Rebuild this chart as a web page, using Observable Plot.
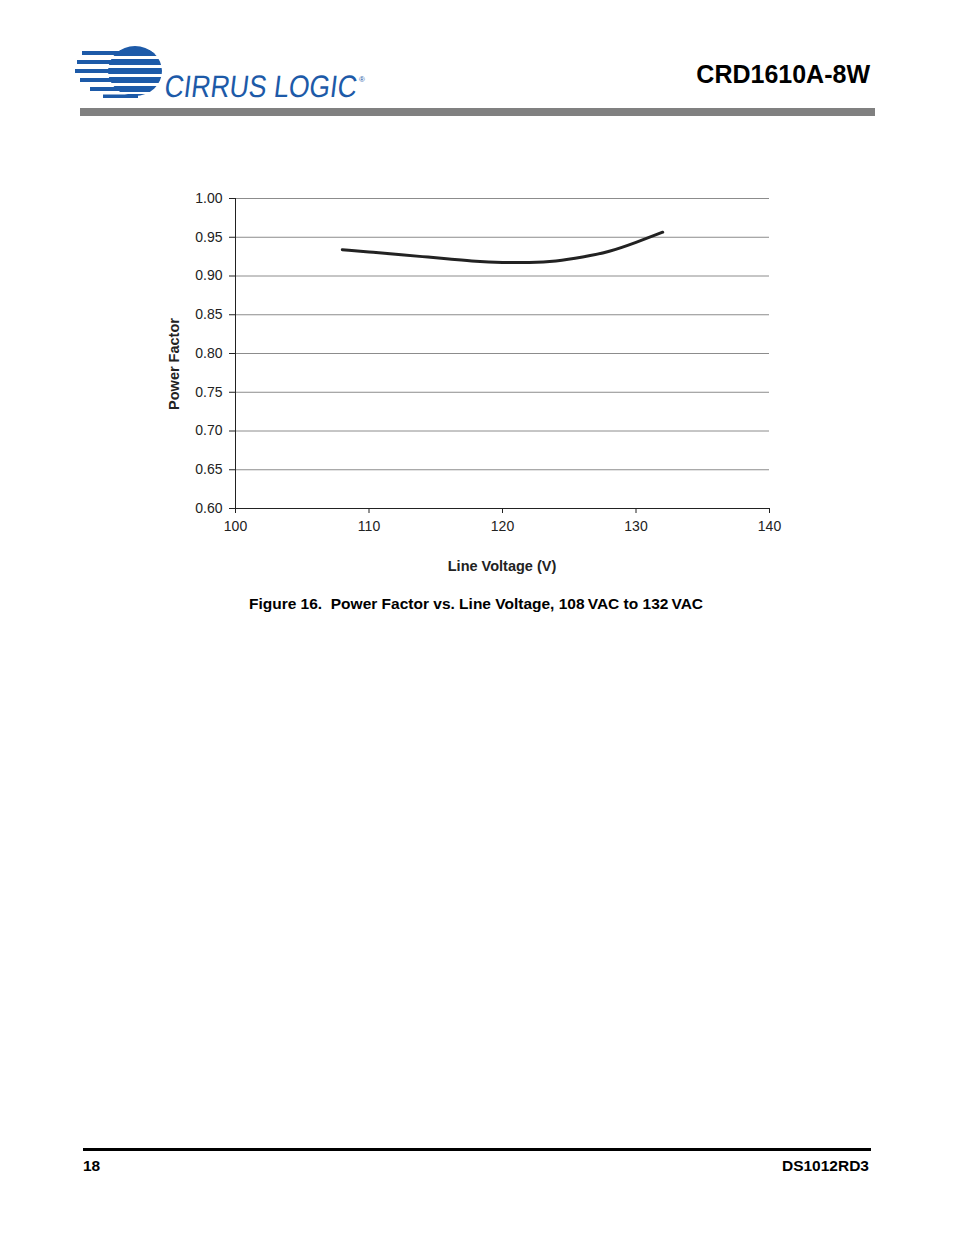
<!DOCTYPE html>
<html>
<head>
<meta charset="utf-8">
<script src="https://cdn.jsdelivr.net/npm/d3@7"></script>
<script src="https://cdn.jsdelivr.net/npm/@observablehq/plot@0.6"></script>
<style>
  html, body { margin: 0; padding: 0; background: #fff; }
  body { width: 954px; height: 1235px; position: relative; font-family: "Liberation Sans", Arial, sans-serif; color: #000; overflow: hidden; }
  .abs { position: absolute; }
  #chart { position: absolute; left: 0; top: 150px; }
</style>
</head>
<body>
<script>
// ---- data ----
const voltage = [108, 110, 112, 114, 116, 118, 120, 122, 124, 126, 128, 130, 132];
const powerFactor = [0.934, 0.931, 0.928, 0.925, 0.922, 0.919, 0.9175, 0.9175, 0.9195, 0.9245, 0.932, 0.9435, 0.9565];
const xTicks = [100, 110, 120, 130, 140];
const yTicks = [0.60, 0.65, 0.70, 0.75, 0.80, 0.85, 0.90, 0.95, 1.00];
const xLabel = "Line Voltage (V)";
const yLabel = "Power Factor";
const figCaption = "Figure 16.  Power Factor vs. Line Voltage, 108\u2009VAC to 132\u2009VAC";
const docTitle = "CRD1610A-8W";
const pageNum = "18";
const docId = "DS1012RD3";

const rows = voltage.map((v, i) => ({v, pf: powerFactor[i]}));

const chart = Plot.plot({
  width: 954,
  height: 440,
  marginLeft: 235,
  marginRight: 185,
  marginTop: 48,
  marginBottom: 82,
  style: {fontFamily: "'Liberation Sans', Arial, sans-serif", fontSize: "14px", color: "#222", background: "transparent"},
  x: {domain: [100, 140]},
  y: {domain: [0.6, 1.0]},
  marks: [
    Plot.gridY(yTicks.filter(d => d > 0.6), {stroke: "#8c8c8c", strokeOpacity: 1, strokeWidth: 1}),
    Plot.ruleX([100], {stroke: "#222", strokeWidth: 1}),
    Plot.ruleY([0.6], {stroke: "#222", strokeWidth: 1}),
    Plot.axisY({ticks: yTicks, tickSize: 6, tickPadding: 7, fontSize: 14, tickFormat: d => d.toFixed(2), label: null, stroke: "#222", fill: "#222"}),
    Plot.axisX({ticks: xTicks, tickSize: 5, tickPadding: 8, fontSize: 14, label: null, stroke: "#222", fill: "#222"}),
    Plot.line(rows, {x: "v", y: "pf", curve: "natural", stroke: "#222", strokeWidth: 3, strokeLinecap: "round"})
  ]
});
chart.id = "chart";
document.body.appendChild(chart);

function addDiv(html, css) {
  const d = document.createElement("div");
  d.className = "abs";
  d.innerHTML = html;
  Object.assign(d.style, css);
  document.body.appendChild(d);
  return d;
}

// header
addDiv(docTitle, {right: "84px", top: "59px", fontSize: "25px", fontWeight: "bold", lineHeight: "30px"});
addDiv("", {left: "80px", top: "108px", width: "795px", height: "8px", background: "#808080"});

// logo (decorative)
addDiv(`
<svg xmlns="http://www.w3.org/2000/svg" width="310" height="60" viewBox="0 0 310 60" style="overflow:visible">
  <defs>
    <clipPath id="globe"><ellipse cx="60" cy="26" rx="27" ry="25"/></clipPath>
  </defs>
  <g fill="#1d5aa8">
    <rect x="30" y="0" width="60" height="8" clip-path="url(#globe)"/>
    <rect x="7" y="5" width="90" height="6" clip-path="url(#globe)"/>
    <rect x="7" y="6" width="50" height="4"/>
    <rect x="2" y="14" width="95" height="6" clip-path="url(#globe)"/>
    <rect x="2" y="15" width="50" height="4"/>
    <rect x="0" y="23" width="95" height="6" clip-path="url(#globe)"/>
    <rect x="0" y="24" width="55" height="4"/>
    <rect x="5" y="32" width="95" height="6" clip-path="url(#globe)"/>
    <rect x="5" y="33" width="50" height="4"/>
    <rect x="15" y="41" width="85" height="6" clip-path="url(#globe)"/>
    <rect x="15" y="42" width="45" height="4"/>
    <rect x="28" y="49" width="70" height="5" clip-path="url(#globe)"/>
    <rect x="28" y="49.5" width="35" height="3.5"/>
  </g>
  <text x="88" y="52" fill="#1d5aa8" font-family="'Liberation Sans Narrow','Liberation Sans',Arial,sans-serif" font-size="31" textLength="192" lengthAdjust="spacingAndGlyphs" transform="skewX(-7) translate(7,0)">CIRRUS LOGIC</text>
  <text x="284" y="37" fill="#1d5aa8" font-family="Arial,sans-serif" font-size="8">®</text>
</svg>`, {left: "75px", top: "45px"});

// axis labels
addDiv(yLabel, {left: "174px", top: "364px", transform: "translate(-50%,-50%) rotate(-90deg)", fontSize: "14.5px", fontWeight: "bold", color: "#222", whiteSpace: "nowrap"});
addDiv(xLabel, {left: "502px", top: "558px", transform: "translateX(-50%)", fontSize: "14.5px", fontWeight: "bold", color: "#222", whiteSpace: "nowrap"});

// caption
addDiv(figCaption.replace(/  /g, "&nbsp; "), {left: "476px", top: "595px", transform: "translateX(-50%)", fontSize: "15.5px", fontWeight: "bold", whiteSpace: "nowrap"});

// footer
addDiv("", {left: "83px", top: "1148px", width: "788px", height: "3px", background: "#000"});
addDiv(pageNum, {left: "83px", top: "1157px", fontSize: "15.5px", fontWeight: "bold"});
addDiv(docId, {right: "85px", top: "1157px", fontSize: "15.5px", fontWeight: "bold"});
</script>
</body>
</html>
